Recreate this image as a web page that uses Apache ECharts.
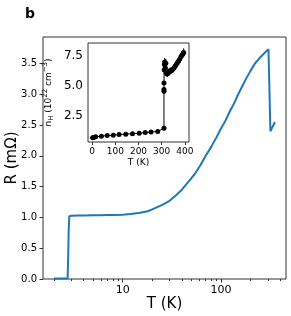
<!DOCTYPE html>
<html><head><meta charset="utf-8">
<script src="https://cdn.jsdelivr.net/npm/echarts@6/dist/echarts.min.js"></script>
<style>html,body{margin:0;padding:0;background:#fff}#c{width:291px;height:316px}</style>
</head><body><div id="c"></div>
<script>
// Main panel: resistance vs temperature
const mainT = [2.0, 2.3, 2.6, 2.75, 2.78, 2.82, 2.86, 3.0, 3.5, 4, 5, 6, 7, 8, 10, 12, 15, 18, 20, 25, 30, 35, 40, 48, 55, 62, 70, 80, 90, 100, 112, 123, 137, 150, 165, 180, 200, 222, 245, 270, 290, 305, 318, 319, 330, 355];
const mainR = [0.01, 0.01, 0.01, 0.01, 0.3, 0.8, 1.02, 1.028, 1.03, 1.03, 1.035, 1.035, 1.04, 1.04, 1.045, 1.055, 1.075, 1.10, 1.13, 1.20, 1.27, 1.36, 1.45, 1.60, 1.72, 1.85, 2.00, 2.15, 2.30, 2.44, 2.58, 2.72, 2.86, 3.00, 3.13, 3.25, 3.38, 3.50, 3.58, 3.65, 3.70, 3.73, 3.76, 2.40, 2.42, 2.55];
// Inset: Hall carrier density vs temperature
const insetT = [2, 6, 15, 40, 65, 91, 116, 145, 174, 203, 229, 254, 283, 310, 310, 310, 310, 311, 312, 313, 316, 318, 320, 324, 328, 333, 338, 343, 348, 353, 358, 363, 368, 373, 378, 383, 388, 392, 395];
const insetN = [0.65, 0.68, 0.73, 0.79, 0.84, 0.87, 0.92, 0.96, 1.0, 1.04, 1.09, 1.13, 1.19, 1.45, 4.55, 4.7, 5.25, 6.35, 6.8, 7.0, 6.5, 6.9, 6.1, 6.0, 6.2, 6.15, 6.3, 6.3, 6.4, 6.5, 6.65, 6.8, 6.95, 7.1, 7.25, 7.45, 7.6, 7.7, 7.8];
const insetErr = [0.04, 0.04, 0.04, 0.04, 0.04, 0.04, 0.04, 0.04, 0.04, 0.04, 0.04, 0.04, 0.05, 0.1, 0.15, 0.15, 0.15, 0.35, 0.35, 0.35, 0.3, 0.35, 0.3, 0.25, 0.25, 0.25, 0.25, 0.25, 0.25, 0.25, 0.25, 0.25, 0.3, 0.3, 0.3, 0.3, 0.3, 0.3, 0.35];
// Tick labels
const mainYTicks = [0, 0.5, 1, 1.5, 2, 2.5, 3, 3.5];
const mainXMajor = [10, 100];
const mainXMinor = [2, 3, 4, 5, 6, 7, 8, 9, 20, 30, 40, 50, 60, 70, 80, 90, 200, 300, 400];
const insetXTicks = [0, 100, 200, 300, 400];
const insetYTicks = [2.5, 5.0, 7.5];

const lg = Math.log10;
const lgMin = lg(Math.min(...mainT)), lgMax = lg(Math.max(...mainT));
const pad = 0.05 * (lgMax - lgMin);
const xMin = lgMin - pad, xMax = lgMax + pad;

const FONT = 'DejaVu Sans';
const AX = '#333';
const chart = echarts.init(document.getElementById('c'), null, {renderer: 'canvas'});
chart.setOption({
  animation: false,
  textStyle: {fontFamily: FONT, color: '#000'},
  title: {text: 'b', left: 20, top: 2, textStyle: {fontFamily: FONT, fontSize: 14, fontWeight: 'bold', color: '#000'}},
  grid: [
    {left: 43, top: 37, width: 243, height: 242, show: true, borderColor: AX, borderWidth: 1, backgroundColor: 'transparent', containLabel: false, outerBoundsMode: 'none'},
    {left: 88, top: 43, width: 101, height: 99, show: true, borderColor: AX, borderWidth: 1, backgroundColor: '#fff', z: 5, containLabel: false, outerBoundsMode: 'none'}
  ],
  xAxis: [
    {gridIndex: 0, type: 'value', position: 'bottom', min: xMin, max: xMax,
     axisLine: {show: false}, splitLine: {show: false},
     axisTick: {show: true, customValues: mainXMajor.map(lg), length: 3.5, lineStyle: {color: AX}},
     axisLabel: {customValues: mainXMajor.map(lg), formatter: v => String(Math.round(Math.pow(10, v))), fontSize: 11, color: '#000', margin: 6, fontFamily: FONT},
     name: 'T (K)', nameLocation: 'middle', nameGap: 18, nameMoveOverlap: false, nameTextStyle: {fontSize: 15, color: '#000', fontFamily: FONT}},
    {gridIndex: 0, type: 'value', position: 'bottom', min: xMin, max: xMax,
     axisLine: {show: false}, splitLine: {show: false},
     axisTick: {show: true, customValues: mainXMinor.map(lg), length: 2, lineStyle: {color: AX}},
     axisLabel: {show: false}},
    {gridIndex: 1, type: 'value', position: 'bottom', min: -18, max: 418,
     axisLine: {show: false}, splitLine: {show: false},
     axisTick: {show: true, customValues: insetXTicks, length: 3, lineStyle: {color: AX}},
     axisLabel: {customValues: insetXTicks, fontSize: 9, color: '#000', margin: 5, fontFamily: FONT},
     name: 'T (K)', nameLocation: 'middle', nameGap: 16, nameMoveOverlap: false, nameTextStyle: {fontSize: 9, color: '#000', fontFamily: FONT}}
  ],
  yAxis: [
    {gridIndex: 0, type: 'value', min: 0, max: 3.93,
     axisLine: {show: false}, splitLine: {show: false},
     axisTick: {show: true, customValues: mainYTicks, length: 3.5, lineStyle: {color: AX}},
     axisLabel: {customValues: mainYTicks, formatter: v => v.toFixed(1), fontSize: 10, color: '#000', margin: 6, fontFamily: FONT},
     name: 'R (mΩ)', nameLocation: 'middle', nameGap: 23, nameRotate: 90, nameMoveOverlap: false, nameTextStyle: {fontSize: 15, color: '#000', fontFamily: FONT}},
    {gridIndex: 1, type: 'value', min: 0.3, max: 8.6,
     axisLine: {show: false}, splitLine: {show: false},
     axisTick: {show: true, customValues: insetYTicks, length: 3, lineStyle: {color: AX}},
     axisLabel: {customValues: insetYTicks, formatter: v => v.toFixed(1), fontSize: 12, color: '#000', margin: 5, fontFamily: FONT},
     name: '{b|n}{s|H}{b| (10}{p|22}{b| cm}{p|−3}{b|)}', nameLocation: 'middle', nameGap: 33, nameRotate: 90, nameMoveOverlap: false,
     nameTextStyle: {fontFamily: FONT, color: '#000', rich: {
       b: {fontSize: 9, fontFamily: FONT, color: '#000', lineHeight: 13, verticalAlign: 'middle'},
       s: {fontSize: 7, fontFamily: FONT, color: '#000', lineHeight: 13, verticalAlign: 'bottom'},
       p: {fontSize: 7, fontFamily: FONT, color: '#000', lineHeight: 13, verticalAlign: 'top'}
     }}}
  ],
  series: [
    {type: 'line', xAxisIndex: 0, yAxisIndex: 0, showSymbol: false,
     data: mainT.map((t, i) => [lg(t), mainR[i]]),
     lineStyle: {color: '#1f77b4', width: 2}, itemStyle: {color: '#1f77b4'}},
    {type: 'custom', xAxisIndex: 2, yAxisIndex: 1, z: 6,
     data: insetT.map((t, i) => [t, insetN[i], insetErr[i]]),
     encode: {x: 0, y: 1},
     renderItem: (params, api) => {
       const x = api.value(0), y = api.value(1), e = api.value(2);
       const p1 = api.coord([x, y - e]), p2 = api.coord([x, y + e]);
       return {type: 'line', shape: {x1: p1[0], y1: p1[1], x2: p2[0], y2: p2[1]}, style: {stroke: '#000', lineWidth: 1}};
     }},
    {type: 'line', xAxisIndex: 2, yAxisIndex: 1, z: 7,
     data: insetT.map((t, i) => [t, insetN[i]]),
     symbol: 'circle', symbolSize: 5, showSymbol: true,
     lineStyle: {color: '#000', width: 1}, itemStyle: {color: '#000'}}
  ]
});
</script></body></html>
